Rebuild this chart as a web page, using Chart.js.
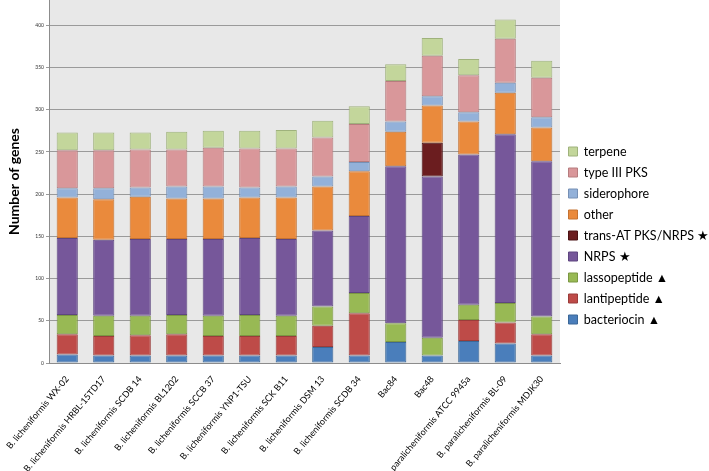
<!DOCTYPE html>
<html>
<head>
<meta charset="utf-8">
<script src="https://cdn.jsdelivr.net/npm/chart.js@4.4.1/dist/chart.umd.min.js"></script>
<style>
  body { margin: 0; background: #fff; }
  #wrap { position: relative; width: 709px; height: 471px; }
</style>
</head>
<body>
<div id="wrap"><canvas id="genes-chart"></canvas></div>
<script>
const strains = [
  'B. licheniformis WX-02', 'B. licheniformis HRBL-15TD17', 'B. licheniformis SCDB 14',
  'B. licheniformis BL1202', 'B. licheniformis SCCB 37', 'B. licheniformis YNP1-TSU',
  'B. licheniformis SCK B11', 'B. licheniformis DSM 13', 'B. licheniformis SCDB 34',
  'Bac84', 'Bac48', 'B. paralicheniformis ATCC 9945a', 'B. paralicheniformis BL-09',
  'B. paralicheniformis MDJK30',
];

// gene cluster counts per strain, bottom of stack first
const bacteriocin    = [10,  9,  9,  9,  9,  9,  9, 19,  9,  25,   9,  26,  23,   9];
const lantipeptide   = [24, 23, 24, 25, 23, 23, 23, 25, 50,   0,   0,  25,  25,  25];
const lassopeptide   = [23, 24, 23, 23, 24, 25, 24, 23, 24,  22,  21,  18,  23,  21];
const nrps           = [91, 90, 91, 90, 91, 91, 91, 90, 91, 186, 191, 178, 200, 184];
const transAtPksNrps = [ 0,  0,  0,  0,  0,  0,  0,  0,  0,   0,  40,   0,   0,   0];
const other          = [48, 48, 50, 48, 48, 48, 49, 52, 53,  41,  44,  39,  49,  40];
const siderophore    = [11, 13, 11, 14, 14, 12, 13, 12, 11,  12,  11,  11,  12,  12];
const typeIIIPks     = [45, 45, 45, 44, 46, 46, 45, 46, 45,  48,  48,  44,  52,  47];
const terpene        = [21, 21, 20, 21, 20, 21, 22, 20, 21,  20,  21,  19,  23,  20];

const yTicks = [0, 50, 100, 150, 200, 250, 300, 350, 400];

const series = [
  { label: 'bacteriocin \u25B2', data: bacteriocin, color: '#4a7ebb', border: '#3b6797' },
  { label: 'lantipeptide \u25B2', data: lantipeptide, color: '#be4b48', border: '#9a3c3a' },
  { label: 'lassopeptide \u25B2', data: lassopeptide, color: '#98b954', border: '#7b9743' },
  { label: 'NRPS \u2605', data: nrps, color: '#76579a', border: '#5e4680' },
  { label: 'trans-AT PKS/NRPS \u2605', data: transAtPksNrps, color: '#6b1d1f', border: '#4a1214' },
  { label: 'other', data: other, color: '#ea8a3c', border: '#c47231' },
  { label: 'siderophore', data: siderophore, color: '#93b1d9', border: '#7690b5' },
  { label: 'type III PKS', data: typeIIIPks, color: '#d9979a', border: '#b67c7e' },
  { label: 'terpene', data: terpene, color: '#c3d69b', border: '#9fb27c' },
];

const plotBackground = {
  id: 'plotBackground',
  beforeDraw(chart) {
    const { ctx, chartArea } = chart;
    ctx.save();
    ctx.fillStyle = '#e8e8e8';
    ctx.fillRect(chartArea.left, chartArea.top, chartArea.width, chartArea.height);
    ctx.restore();
  },
};

// keep the legend column narrow so the plot reaches x = 560
const legendWidth = {
  id: 'legendWidth',
  beforeUpdate(chart) {
    const legend = chart.legend;
    if (legend && !legend._fixedWidth) {
      const fit = legend.fit.bind(legend);
      legend.fit = function () {
        fit();
        this.width = 149;
      };
      legend._fixedWidth = true;
    }
  },
};

new Chart(document.getElementById('genes-chart').getContext('2d'), {
  type: 'bar',
  data: {
    labels: strains,
    datasets: series.map((s) => ({
      label: s.label,
      data: s.data.map((v) => (v === 0 ? null : v)),
      backgroundColor: s.color,
      borderColor: s.border,
      borderWidth: 1,
      borderSkipped: false,
      categoryPercentage: 1,
      barPercentage: 0.58,
    })),
  },
  options: {
    responsive: true,
    maintainAspectRatio: false,
    animation: false,
    layout: { padding: 0 },
    plugins: {
      tooltip: { enabled: false },
      legend: {
        position: 'right',
        align: 'center',
        reverse: true,
        labels: {
          boxWidth: 9,
          boxHeight: 9,
          padding: 8.5,
          color: '#000',
          font: { family: 'Lato', size: 12.5 },
        },
      },
    },
    scales: {
      x: {
        stacked: true,
        grid: { display: false },
        border: { color: '#8c8c8c' },
        ticks: {
          minRotation: 50,
          maxRotation: 50,
          autoSkip: false,
          color: '#000',
          font: { family: 'Lato', size: 9 },
        },
        afterFit(scale) {
          scale.height = 108;
          scale.paddingLeft = 0;
          scale.paddingRight = 0;
        },
      },
      y: {
        stacked: true,
        min: 0,
        max: 430,
        afterBuildTicks(scale) {
          scale.ticks = yTicks.map((value) => ({ value }));
        },
        grid: { color: '#9a9a9a', tickLength: 3, drawOnChartArea: true },
        border: { color: '#8c8c8c' },
        ticks: {
          color: '#333',
          padding: 2,
          font: { family: 'Lato', size: 5 },
        },
        title: {
          display: true,
          text: 'Number of genes',
          color: '#000',
          font: { family: 'Lato', size: 14, weight: 'bold' },
          padding: { top: 6, bottom: 2 },
        },
        afterFit(scale) {
          scale.width = 49;
          scale.paddingTop = 0;
          scale.paddingBottom = 0;
        },
      },
    },
  },
  plugins: [plotBackground, legendWidth],
});
</script>
</body>
</html>
